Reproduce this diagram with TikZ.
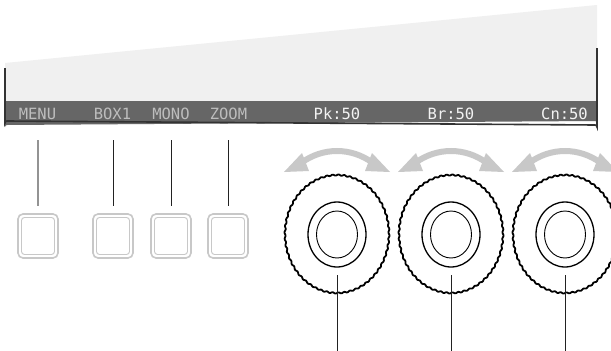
\documentclass[tikz,border=0pt]{standalone}
\usepackage{fontspec}
\newfontfamily\monofont{DejaVu Sans Mono}
\begin{document}
\begin{tikzpicture}[x=1pt,y=-1pt,
  screen/.style={fill=scrgray,draw=none},
  edgeline/.style={draw=edgedark,line width=1.6pt},
  softlbl/.style={text=lblgray,font=\monofont\fontsize{15.5}{18}\selectfont,inner sep=0pt,anchor=base},
  hardlbl/.style={text=lblwhite,font=\monofont\fontsize{15.5}{18}\selectfont,inner sep=0pt,anchor=base},
  leader/.style={draw=leaddark,line width=1pt},
  btnouter/.style={draw=btngray,line width=1.6pt,rounded corners=5pt},
  btninner/.style={draw=btngray,line width=0.9pt,rounded corners=3pt},
  knobrim/.style={draw=black,line width=1.8pt,line join=round},
  knobring/.style={draw=black,line width=1.3pt},
  knobcore/.style={draw=black,line width=0.9pt},
  turnshaft/.style={draw=arrgray,line width=6pt},
  turnhead/.style={fill=arrgray,draw=none}
]
\definecolor{scrgray}{HTML}{F0F0F0}
\definecolor{bargray}{HTML}{666666}
\definecolor{edgedark}{HTML}{333333}
\definecolor{lblgray}{HTML}{BDBDBD}
\definecolor{lblwhite}{HTML}{F2F2F2}
\definecolor{leaddark}{HTML}{222222}
\definecolor{btngray}{HTML}{C8C8C8}
\definecolor{arrgray}{HTML}{C8C8C8}
\useasboundingbox[fill=white] (0,0) rectangle (611,351);

% screen
\path[screen] (5,63) -- (597,5) -- (597,101) -- (5,101) -- cycle;
\fill[bargray] (5,101) -- (597,101) -- (597,123) arc[start angle=0,end angle=90,radius=2pt] -- (7,125) arc[start angle=90,end angle=180,radius=2pt] -- cycle;
\draw[edgeline] (5,68) -- (5,123) arc[start angle=180,end angle=90,radius=2pt] -- (595,125) arc[start angle=90,end angle=0,radius=2pt] -- (597,48);

% labels
\node[softlbl] (menu) at (37.5,119) {MENU};
\node[softlbl] (box) at (112.5,119) {BOX1};
\node[softlbl] (mono) at (171,119) {MONO};
\node[softlbl] (zoom) at (228.5,119) {ZOOM};
\node[hardlbl] (pk) at (337,119) {Pk:50};
\node[hardlbl] (br) at (451,119) {Br:50};
\node[hardlbl] (cn) at (564.5,119) {Cn:50};

% buttons
\foreach \n/\cx in {b1/38,b2/113,b3/171,b4/228}{
  \draw[btnouter] (\cx-20,214) rectangle (\cx+20,258);
  \draw[btninner] (\cx-16.5,217.5) rectangle (\cx+16.5,254.5);
  \coordinate (top-\n) at (\cx,206);
  \coordinate (lead-\n) at (\cx,140);
}
\draw[leader,draw=gray!85,line width=1.4pt] (lead-b1) -- (top-b1);
\draw[leader] (lead-b2) -- (top-b2);
\draw[leader] (lead-b3) -- (top-b3);
\draw[leader] (lead-b4) -- (top-b4);

% knobs
\begin{scope}
\clip (0,0) rectangle (611,351);
\foreach \n/\cx in {k1/337,k2/451,k3/565}{
  \draw[knobrim] plot[domain=0:56,samples=561,smooth] ({\cx+(52+0.55*sin(360*mod(\x,1)))*cos(6.428571*\x)},{234+(59+0.55*sin(360*mod(\x,1)))*sin(6.428571*\x)}) -- cycle;
  \draw[knobring] (\cx,234.5) ellipse[x radius=29,y radius=32.5];
  \draw[knobcore] (\cx,234.5) ellipse[x radius=20.5,y radius=23.5];
  \coordinate (stem-\n) at (\cx,275);
  \coordinate (foot-\n) at (\cx,351);
  \draw[turnshaft] (\cx-36,163) .. controls (\cx-14,147) and (\cx+14,147) .. (\cx+36,163);
  \path[turnhead] (\cx-53,172) -- (\cx-35,153) -- (\cx-28,171) -- cycle;
  \path[turnhead] (\cx+53,172) -- (\cx+35,153) -- (\cx+28,171) -- cycle;
}
\end{scope}
\draw[leader] (stem-k1) -- (foot-k1);
\draw[leader] (stem-k2) -- (foot-k2);
\draw[leader] (stem-k3) -- (foot-k3);
\end{tikzpicture}
\end{document}
